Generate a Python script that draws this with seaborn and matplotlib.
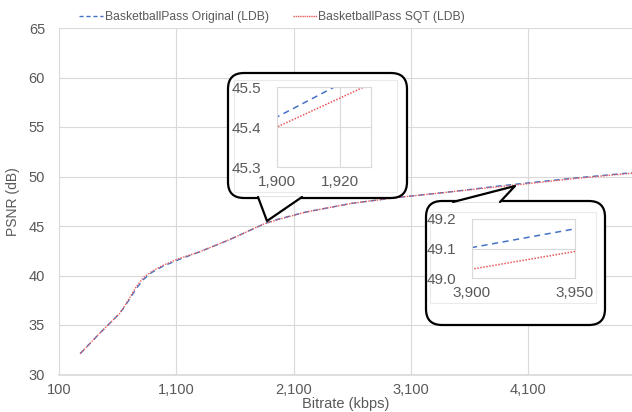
import matplotlib
matplotlib.use("Agg")
import matplotlib.pyplot as plt
import seaborn as sns
import pandas as pd
from matplotlib.patches import FancyBboxPatch, Polygon, Rectangle
from matplotlib.lines import Line2D
from matplotlib.transforms import Affine2D
from matplotlib.ticker import FuncFormatter

# RD curves
bitrate = [280, 450, 620, 690, 760, 820, 890, 980, 1120, 1300, 1550, 1850, 1950,
           2200, 2600, 3000, 3400, 3850, 4000, 4500, 5000]
psnr_orig = [32.1, 34.2, 36.2, 37.4, 38.7, 39.6, 40.3, 40.9, 41.6, 42.4, 43.6, 45.22, 45.63,
             46.4, 47.3, 47.9, 48.4, 49.04, 49.23, 49.85, 50.4]
psnr_sqt = [32.1, 34.2, 36.2, 37.5, 38.9, 39.8, 40.4, 41.0, 41.7, 42.4, 43.6, 45.22, 45.58,
            46.4, 47.3, 47.9, 48.4, 48.97, 49.15, 49.8, 50.35]

label_orig = "BasketballPass Original (LDB)"
label_sqt = "BasketballPass SQT (LDB)"

x_ticks = [100, 1100, 2100, 3100, 4100]
y_ticks = [30, 35, 40, 45, 50, 55, 60, 65]

zoom1_x = [1900, 1920]
zoom1_y = [45.3, 45.4, 45.5]
zoom2_x = [3900, 3950]
zoom2_y = [49.0, 49.1, 49.2]

df = pd.DataFrame({
    "bitrate": bitrate * 2,
    "psnr": psnr_orig + psnr_sqt,
    "series": [label_orig] * len(bitrate) + [label_sqt] * len(bitrate),
})

BLUE = "#4472C4"
RED = "#E8595A"
GRID = "#D9D9D9"
TXT = "#595959"

sns.set_theme(style="white")
plt.rcParams["font.family"] = ["Liberation Sans", "DejaVu Sans"]

W, H = 632, 412
fig = plt.figure(figsize=(W / 100, H / 100), dpi=100)


def frac(x0, y0, x1, y1):
    # pixel box (y down) -> figure fraction rect
    return [x0 / W, 1 - y1 / H, (x1 - x0) / W, (y1 - y0) / H]


pix = Affine2D().scale(1 / W, -1 / H).translate(0, 1) + fig.transFigure
comma = FuncFormatter(lambda v, p: f"{v:,.0f}")


def draw_lines(ax, lw):
    sub = df[df.series == label_orig]
    sns.lineplot(data=sub, x="bitrate", y="psnr", ax=ax, color=BLUE, lw=lw,
                 linestyle=(0, (4, 3)), label=label_orig, legend=False)
    sub = df[df.series == label_sqt]
    sns.lineplot(data=sub, x="bitrate", y="psnr", ax=ax, color=RED, lw=lw,
                 linestyle=(0, (1, 1)), label=label_sqt, legend=False)


ax = fig.add_axes(frac(59, 28, 632, 374.5))
ax.set_zorder(0)
draw_lines(ax, 1.0)
ax.set_xlim(100, 4985)
ax.set_ylim(30, 65)
ax.set_xticks(x_ticks)
ax.set_yticks(y_ticks)
ax.xaxis.set_major_formatter(comma)
ax.grid(True, color=GRID, lw=0.8)
for s in ["top", "right", "left"]:
    ax.spines[s].set_visible(False)
ax.spines["bottom"].set_color(GRID)
ax.tick_params(colors=TXT, labelsize=10.5, length=0)
ax.tick_params(axis="y", pad=10)
ax.tick_params(axis="x", pad=6)
ax.set_xlabel("Bitrate (kbps)", color=TXT, fontsize=10.5, labelpad=0)
ax.set_ylabel("PSNR (dB)", color=TXT, fontsize=10, labelpad=6)

handles = [Line2D([], [], color=BLUE, lw=1, linestyle=(0, (3, 2))),
           Line2D([], [], color=RED, lw=1, linestyle=(0, (1, 0.6)))]
fig.legend(handles, [label_orig, label_sqt], loc="center",
           bbox_to_anchor=(272 / W, 1 - 17 / H), ncol=2, frameon=False,
           fontsize=8.7, handlelength=2.0, handletextpad=0.1,
           columnspacing=2.0, labelcolor=TXT)


def callout(box, ptr):
    x0, y0, x1, y1 = box
    fig.patches.append(FancyBboxPatch((x0, y0), x1 - x0, y1 - y0,
                                      boxstyle="round,pad=0,rounding_size=16",
                                      transform=pix, facecolor="white",
                                      edgecolor="black", lw=1.6, zorder=2))
    fig.patches.append(Polygon(ptr, closed=True, transform=pix, facecolor="white",
                               edgecolor="none", zorder=2.1))
    fig.lines.append(Line2D([p[0] for p in ptr], [p[1] for p in ptr],
                            transform=pix, color="black", lw=1.6, zorder=2.2))


def inset(rect, xlim, ylim, xt, yt, frame):
    fig.patches.append(Rectangle((frame[0], frame[1]), frame[2] - frame[0],
                                 frame[3] - frame[1], transform=pix,
                                 facecolor="none", edgecolor="#EAEAEA",
                                 lw=0.8, zorder=2.3))
    a = fig.add_axes(frac(*rect))
    a.set_zorder(3)
    a.patch.set_alpha(0)
    draw_lines(a, 1.1)
    a.set_xlim(*xlim)
    a.set_ylim(*ylim)
    a.set_xticks(xt)
    a.set_yticks(yt)
    a.xaxis.set_major_formatter(comma)
    a.yaxis.set_major_formatter(FuncFormatter(lambda v, p: f"{v:.1f}"))
    a.grid(True, color=GRID, lw=0.8)
    for s in a.spines.values():
        s.set_color(GRID)
        s.set_linewidth(0.8)
    a.tick_params(colors=TXT, labelsize=11, length=0)
    a.tick_params(axis="y", pad=11)
    a.tick_params(axis="x", pad=6)
    a.set_xlabel("")
    a.set_ylabel("")


callout((228, 73, 407, 198), [(258, 197), (267, 221), (302, 197)])
callout((426, 201, 605, 325), [(453, 202), (515, 186), (500, 202)])

inset((277, 87, 371, 167), (1900, 1930), (45.3, 45.5), zoom1_x, zoom1_y,
      (234, 80, 397, 192))
inset((472, 219, 575, 278), (3900, 3950), (49.0, 49.2), zoom2_x, zoom2_y,
      (430, 212, 596, 303))

fig.savefig("out.png", dpi=100)
